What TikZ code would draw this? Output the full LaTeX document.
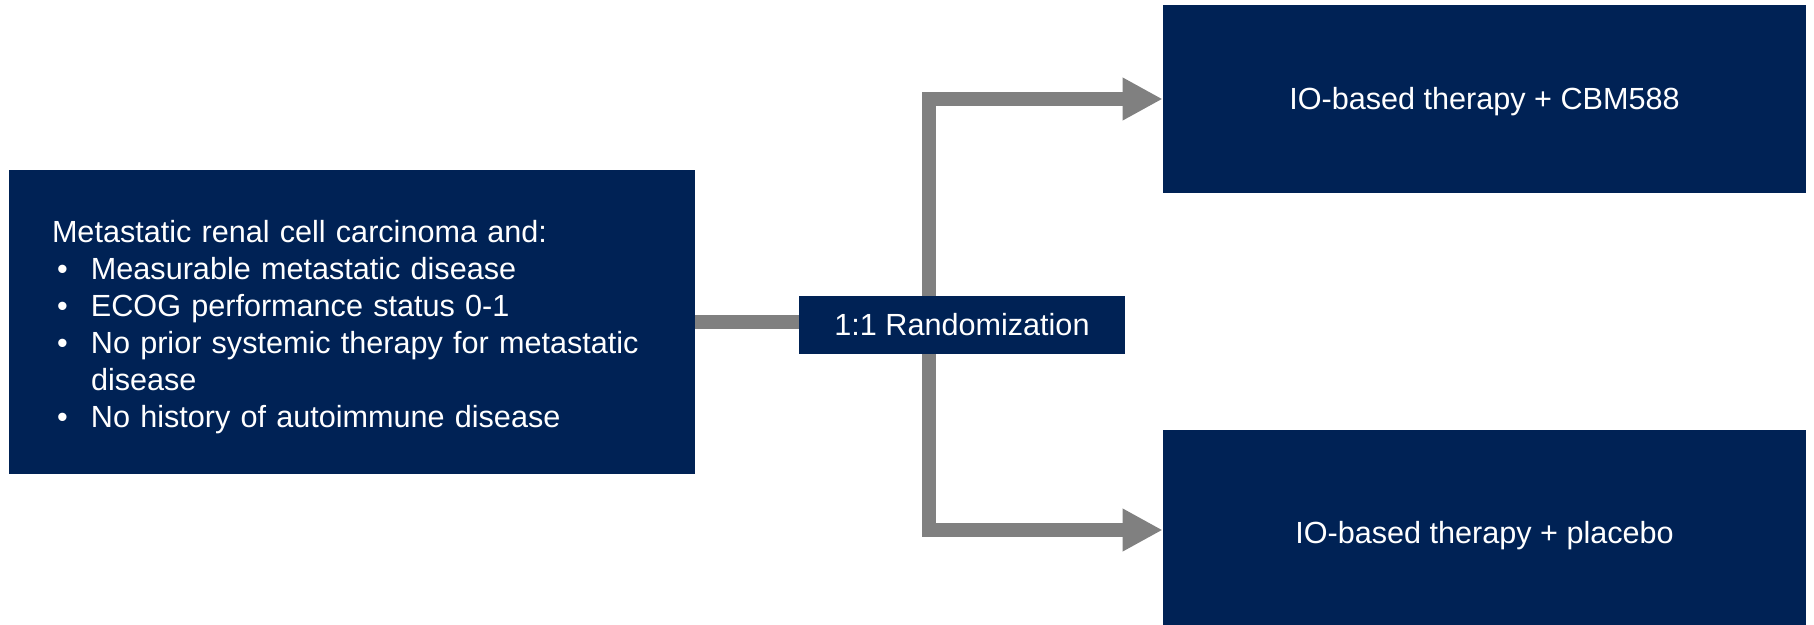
\documentclass[tikz,border=0pt]{standalone}
\usepackage{fontspec}
\setmainfont{Liberation Sans}
\usetikzlibrary{arrows.meta}
\definecolor{navy}{RGB}{0,34,85}
\definecolor{arrowgray}{RGB}{128,128,128}
\newcommand\bulletitem{\hspace*{2.5pt}\makebox[17pt][l]{\textbullet}}
\begin{document}
\begin{tikzpicture}[x=0.5pt,y=-0.5pt,
  box/.style={fill=navy, text=white, inner sep=0pt, font=\fontsize{15.3}{18.5}\selectfont},
  link/.style={draw=arrowgray, line width=7pt},
  arrowlink/.style={link, -{Triangle[length=20pt,width=20pt]}}]
\useasboundingbox (0,0) rectangle (1814,625);
\node[box, minimum width=343pt, minimum height=152pt, text width=300pt, inner xsep=21.5pt, align=left] (elig) at (352,322)
 {\rule{0pt}{16.2pt}Metastatic renal cell carcinoma and:\\
  \bulletitem Measurable metastatic disease\\
  \bulletitem ECOG performance status 0-1\\
  \bulletitem No prior systemic therapy for metastatic\\
  \hspace*{19.5pt}disease\\
  \bulletitem No history of autoimmune disease};
\node[box, minimum width=163pt, minimum height=29pt] (rand) at (962,325) {1:1 Randomization};
\node[box, minimum width=321.5pt, minimum height=94pt, text height=13.2pt] (top) at (1484.5,99) {IO-based therapy + CBM588};
\node[box, minimum width=321.5pt, minimum height=100pt, text height=16.2pt] (bot) at (1484.5,530) {IO-based therapy + placebo};
\coordinate (split) at (929,325);
\draw[link] (elig.east) -- (elig.east -| rand.west);
\draw[arrowlink] (split |- rand.north) |- (top.west);
\draw[arrowlink] (split |- rand.south) |- (bot.west);
\end{tikzpicture}
\end{document}
